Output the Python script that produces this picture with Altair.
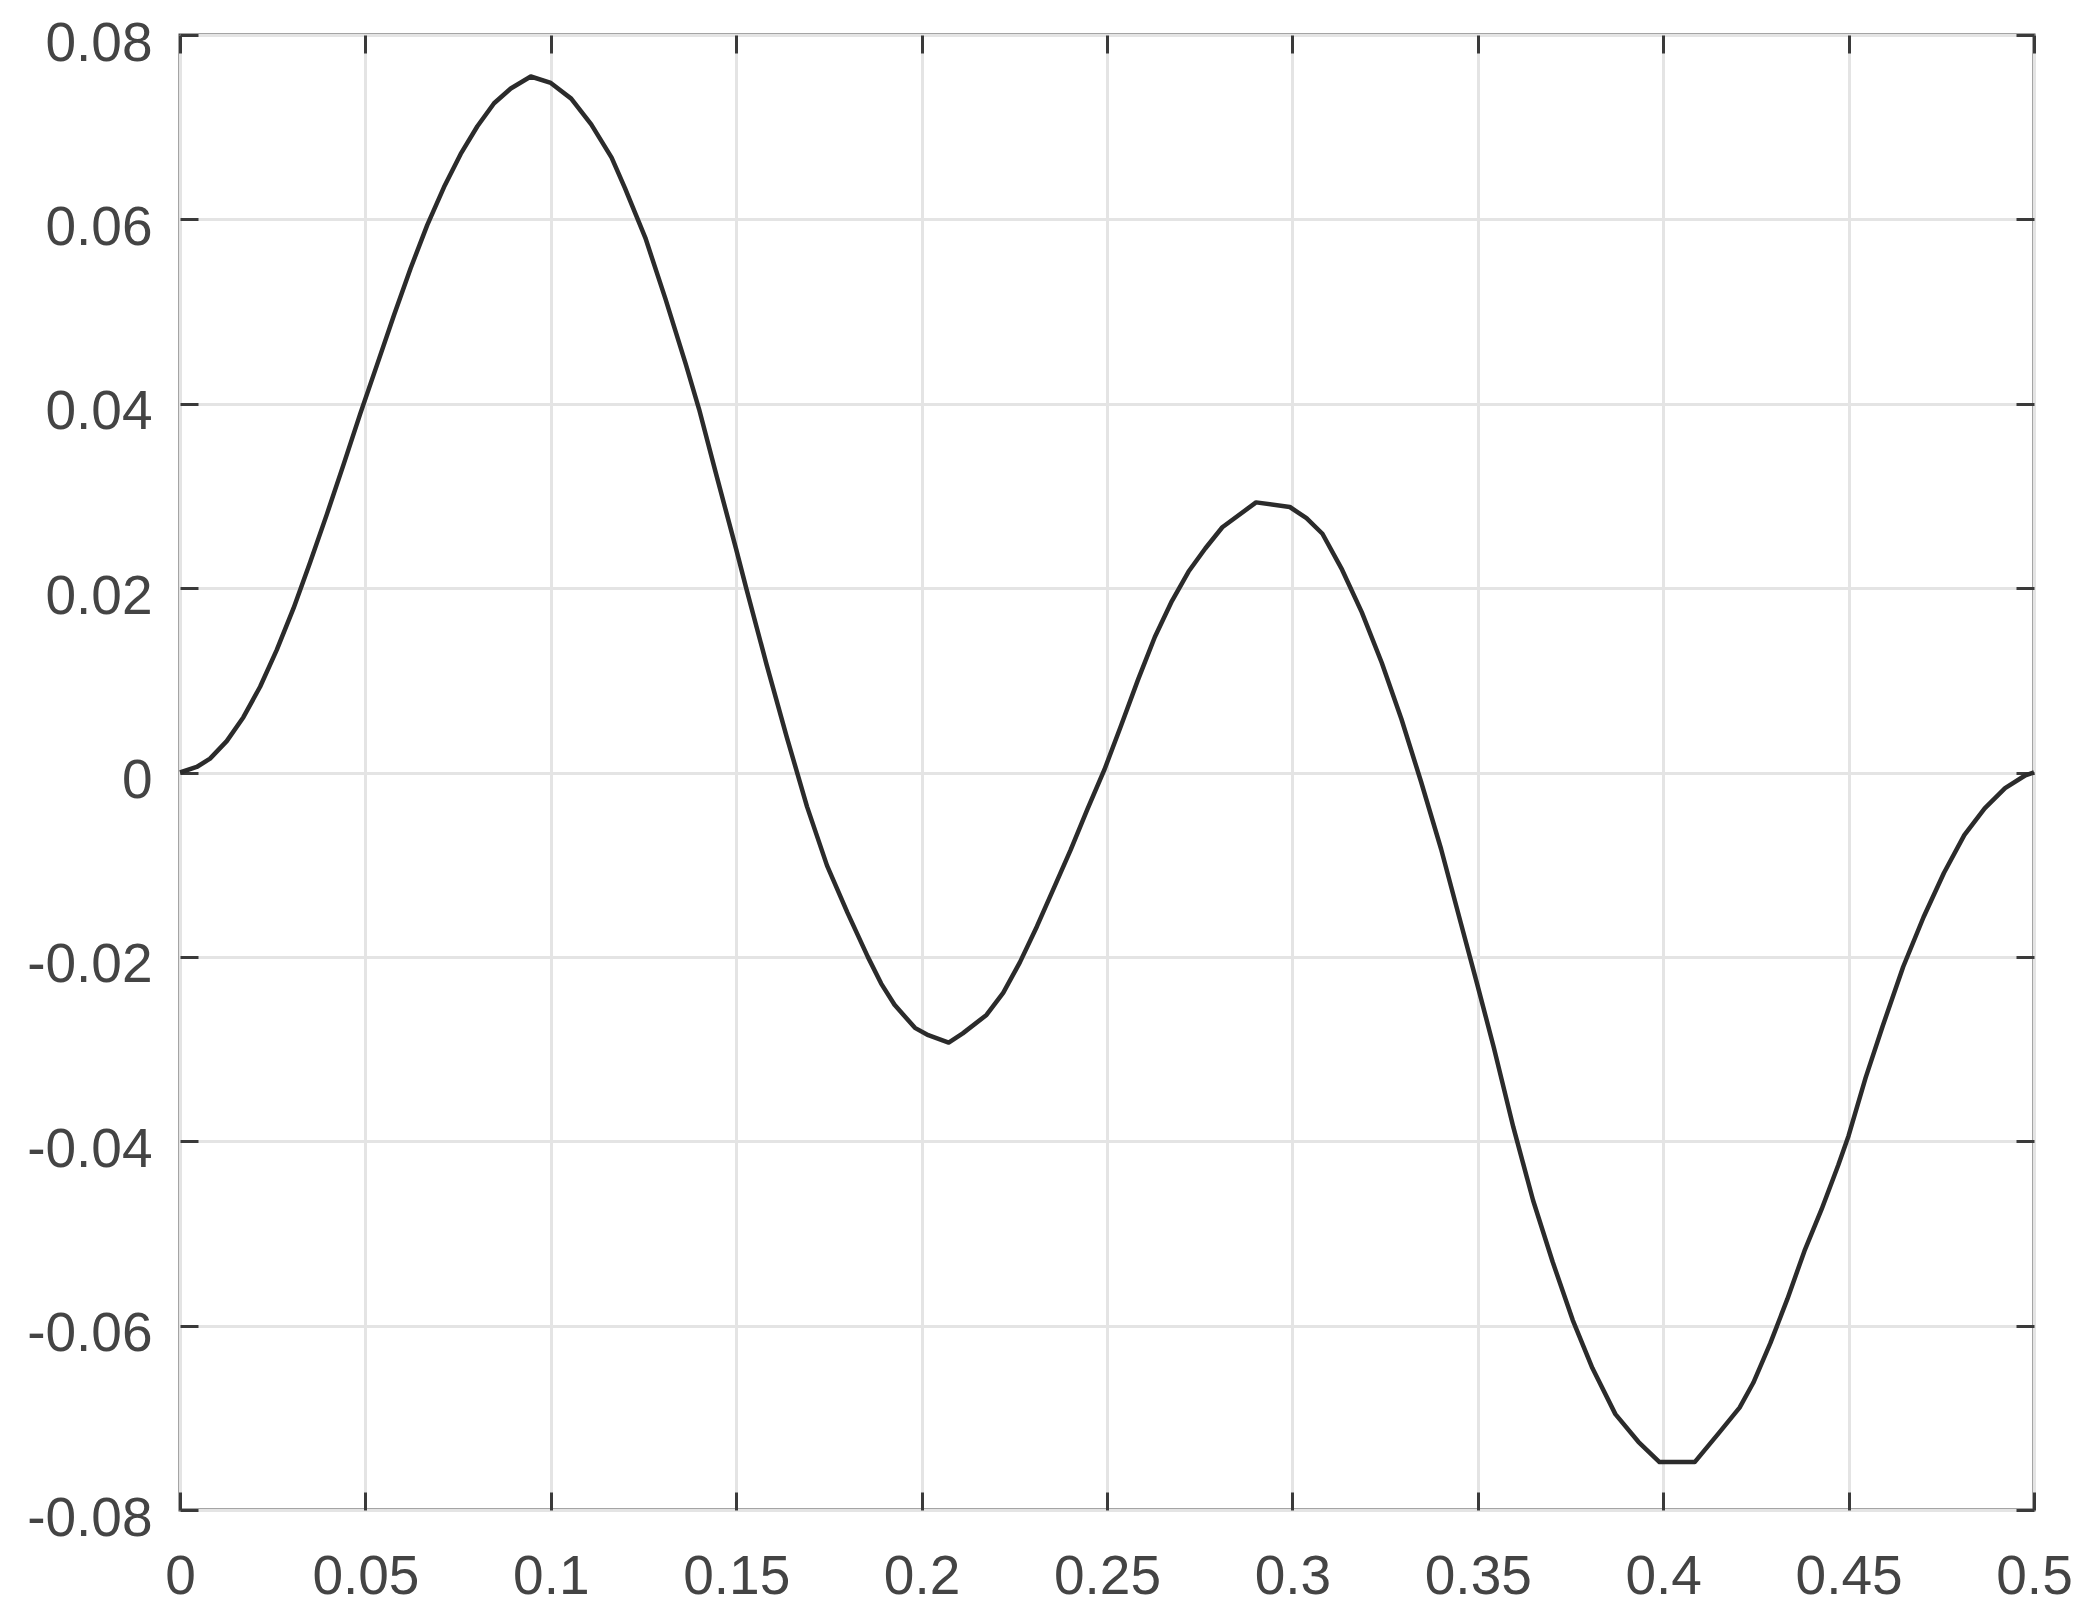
import altair as alt
import pandas as pd

# ---- data ----
x_vals = [0, 0.0045, 0.0081, 0.0126, 0.0171, 0.0216, 0.0261, 0.0306, 0.0351, 0.0396,
          0.0441, 0.0486, 0.0532, 0.0577, 0.0622, 0.0667, 0.0712, 0.0757, 0.0802, 0.0847,
          0.0892, 0.0946, 0.1000, 0.1055, 0.1109, 0.1164, 0.1200, 0.1255, 0.1309, 0.1364,
          0.1400, 0.1445, 0.1500, 0.1527, 0.1582, 0.1636, 0.1691, 0.1745, 0.1800, 0.1855,
          0.1891, 0.1927, 0.1982, 0.2018, 0.2073, 0.2111, 0.2175, 0.2220, 0.2265, 0.2311,
          0.2356, 0.2402, 0.2447, 0.2493, 0.2538, 0.2584, 0.2629, 0.2675, 0.2720, 0.2765,
          0.2811, 0.2902, 0.2993, 0.3038, 0.3081, 0.3134, 0.3187, 0.3241, 0.3294, 0.3347,
          0.3401, 0.3454, 0.3498, 0.3543, 0.3596, 0.3649, 0.3702, 0.3756, 0.3809, 0.3871,
          0.3933, 0.3990, 0.4085, 0.4151, 0.4206, 0.4243, 0.4289, 0.4335, 0.4381, 0.4427,
          0.4472, 0.4500, 0.4546, 0.4592, 0.4647, 0.4702, 0.4757, 0.4812, 0.4867, 0.4922,
          0.4977, 0.5]

y_vals = [0, 0.0006, 0.0015, 0.0034, 0.0060, 0.0093, 0.0133, 0.0178, 0.0228, 0.0280,
          0.0334, 0.0389, 0.0443, 0.0496, 0.0547, 0.0594, 0.0635, 0.0671, 0.0701, 0.0726,
          0.0742, 0.0755, 0.0748, 0.0731, 0.0703, 0.0667, 0.0634, 0.0580, 0.0514, 0.0443,
          0.0394, 0.0325, 0.0242, 0.0200, 0.0117, 0.0039, -0.0037, -0.0101, -0.0152, -0.0200,
          -0.0229, -0.0252, -0.0277, -0.0285, -0.0293, -0.0283, -0.0263, -0.0239, -0.0206, -0.0167,
          -0.0126, -0.0084, -0.0040, 0.0003, 0.0051, 0.0101, 0.0147, 0.0186, 0.0218, 0.0243,
          0.0266, 0.0293, 0.0288, 0.0276, 0.0259, 0.0220, 0.0174, 0.0119, 0.0058, -0.0010,
          -0.0083, -0.0163, -0.0229, -0.0298, -0.0385, -0.0464, -0.0531, -0.0594, -0.0646, -0.0696,
          -0.0726, -0.0748, -0.0748, -0.0716, -0.0689, -0.0662, -0.0619, -0.0571, -0.0519, -0.0474,
          -0.0426, -0.0394, -0.0331, -0.0275, -0.0211, -0.0157, -0.0109, -0.0068, -0.0039, -0.0017,
          -0.0003, 0]

x_ticks = [0, 0.05, 0.1, 0.15, 0.2, 0.25, 0.3, 0.35, 0.4, 0.45, 0.5]
y_ticks = [-0.08, -0.06, -0.04, -0.02, 0, 0.02, 0.04, 0.06, 0.08]
x_domain = [0, 0.5]
y_domain = [-0.08, 0.08]

# ---- layout / style ----
W, H = 1854, 1475
FONT = "Liberation Sans"
LABEL_COLOR = "#444444"
TICK_COLOR = "#3a3a3a"
TICK_LEN = 18

df = pd.DataFrame({"x": x_vals, "y": y_vals})
base = alt.Chart(df)

xs = alt.Scale(domain=x_domain, nice=False, zero=False)
ys = alt.Scale(domain=y_domain, nice=False, zero=False)

# main layer: the curve, labels, gridlines
main = base.mark_line(color="#2b2b2b", strokeWidth=4.5, strokeJoin="round").encode(
    x=alt.X("x:Q", scale=xs, title=None,
            axis=alt.Axis(orient="bottom", values=x_ticks, labelExpr="'' + datum.value",
                          grid=True, gridColor="#e4e4e4", gridWidth=3,
                          ticks=False, tickSize=0, domain=False,
                          labelFont=FONT, labelFontSize=55, labelColor=LABEL_COLOR,
                          labelPadding=40, labelFlush=False)),
    y=alt.Y("y:Q", scale=ys, title=None,
            axis=alt.Axis(orient="left", values=y_ticks, labelExpr="'' + datum.value",
                          grid=True, gridColor="#e4e4e4", gridWidth=3,
                          ticks=False, tickSize=0, domain=False,
                          labelFont=FONT, labelFontSize=55, labelColor=LABEL_COLOR,
                          labelPadding=28, labelOffset=8, labelFlush=False)),
)

def tick_axis(orient, offset, vals):
    return alt.Axis(orient=orient, offset=offset, values=vals, labels=False,
                    grid=False, domain=False, ticks=True, tickSize=TICK_LEN,
                    tickWidth=3, tickColor=TICK_COLOR)

# inward ticks at bottom (top-oriented axis moved down) and left (right-oriented moved left)
ticks_a = base.mark_line(opacity=0).encode(
    x=alt.X("x:Q", scale=xs, title=None, axis=tick_axis("top", -H, x_ticks)),
    y=alt.Y("y:Q", scale=ys, title=None, axis=tick_axis("right", -W, y_ticks)),
)
# inward ticks at top (bottom-oriented axis moved up) and right (left-oriented moved right)
ticks_b = base.mark_line(opacity=0).encode(
    x=alt.X("x:Q", scale=xs, title=None, axis=tick_axis("bottom", -H, x_ticks)),
    y=alt.Y("y:Q", scale=ys, title=None, axis=tick_axis("left", -W, y_ticks)),
)

chart = (
    alt.layer(main, ticks_a, ticks_b)
    .resolve_axis(x="independent", y="independent")
    .properties(width=W, height=H, autosize="none",
                padding={"left": 172, "top": 27, "right": 40, "bottom": 98},
                background="white")
    .configure_view(stroke="#4a4a4a", strokeWidth=3)
)

chart.save("out.html", embed_options={"renderer": "svg", "actions": False})
